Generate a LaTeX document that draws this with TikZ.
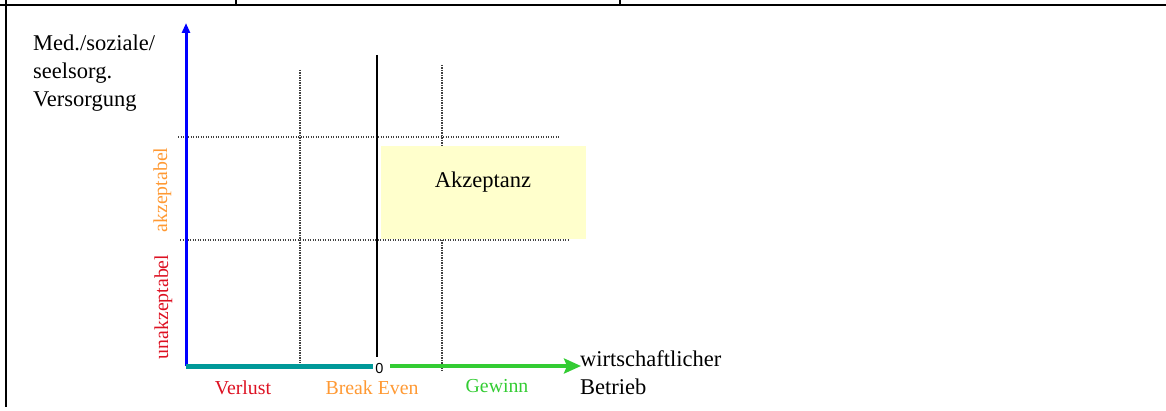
\documentclass[tikz,border=0pt]{standalone}
\usepackage{fontspec}
\setmainfont{Liberation Serif}
\newfontfamily\zerofont{Liberation Sans}
\usetikzlibrary{arrows.meta}
\definecolor{akzorange}{RGB}{255,153,51}
\definecolor{unakzred}{RGB}{221,17,34}
\definecolor{gewinngreen}{RGB}{51,204,51}
\definecolor{verlustteal}{RGB}{0,153,153}
\definecolor{akzyellow}{RGB}{255,255,204}

\begin{document}
\begin{tikzpicture}[x = 1pt, y = -1pt,
  grid line/.style = {line width = 1.1pt, color = gray!50!black, dash pattern = on 1.2pt off 1.3pt},
  frame line/.style = {line width = 2pt},
  axis text/.style = {font = \fontsize{19.8}{24}\selectfont, inner sep = 0pt},
  main text/.style = {font = \fontsize{22.5}{28}\selectfont, inner sep = 0pt}]
\useasboundingbox (0, 0) rectangle (1166, 411);
% table frame
\draw[frame line] (0, 5) -- (1166, 5);
\draw[frame line] (6, 0) -- (6, 407);
\draw[frame line] (236, 0) -- (236, 5);
\draw[frame line] (620, 0) -- (620, 5);
% grid
\draw[grid line] (178, 137) -- (560, 137);
\draw[grid line] (180, 240) -- (569, 240);
\draw[grid line] (300, 70) -- (300, 363);
\draw[grid line] (442, 65) -- (442, 372);
% acceptance area
\fill[akzyellow] (381, 146) rectangle (586, 239);
\node (akzeptanz) at (483, 188) [main text, anchor = base] {Akzeptanz};
\draw[line width = 1.5pt] (377, 55) -- (377, 357);
% axes
\coordinate (origin) at (186, 366);
\coordinate (ytop) at (186, 23);
\coordinate (tealend) at (373, 366);
\coordinate (greenstart) at (390, 366);
\coordinate (xtip) at (581, 366);
\draw[-{Triangle[length = 10pt, width = 8pt]}, blue, line width = 3pt] (origin) -- (ytop);
\draw[verlustteal, line width = 5pt] (origin) -- (tealend);
\draw[-{Stealth[length = 17pt, width = 15pt, inset = 3pt]}, gewinngreen, line width = 4.5pt]
  (greenstart) -- (xtip);
\node (zero) at (379.5, 373) [anchor = base, inner sep = 0pt,
  font = \zerofont\fontsize{14.5}{14.5}\selectfont] {0};
% axis labels
\node (yname) at (33, 35) [main text, anchor = north west, align = left]
  {Med./soziale/\\seelsorg.\\Versorgung};
\node (xname) at (580, 350) [main text, anchor = north west, align = left]
  {wirtschaftlicher\\Betrieb};
\node (akz) at (167, 190) [axis text, rotate = 90, anchor = base, text = akzorange] {akzeptabel};
\node (unakz) at (168, 307) [axis text, rotate = 90, anchor = base, text = unakzred] {unakzeptabel};
\node (verlust) at (243, 394) [axis text, anchor = base, text = unakzred] {Verlust};
\node (breakeven) at (372, 394) [axis text, anchor = base, text = akzorange] {Break Even};
\node (gewinn) at (497, 392) [axis text, anchor = base, text = gewinngreen] {Gewinn};
\end{tikzpicture}
\end{document}
